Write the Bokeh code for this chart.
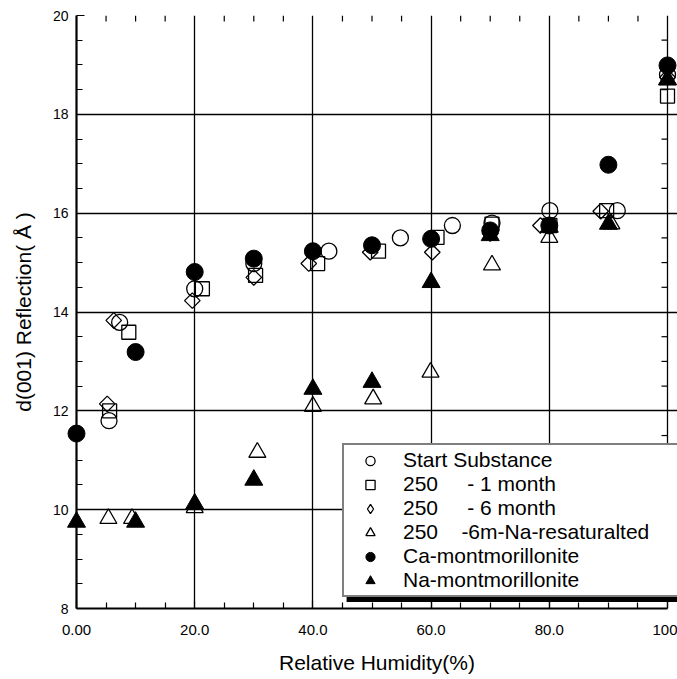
import numpy as np
from bokeh.plotting import figure
from bokeh.models import Range1d, FixedTicker, Legend, LegendItem, BoxAnnotation
from bokeh.embed import file_html
from bokeh.resources import INLINE

# ---- data -------------------------------------------------------------
x_ticks = [0, 20, 40, 60, 80, 100]
x_tick_labels = ["0.00", "20.0", "40.0", "60.0", "80.0", "100"]
x_minor = [5, 10, 15, 25, 30, 35, 45, 50, 55, 65, 70, 75, 85, 90, 95]
y_ticks = [8, 10, 12, 14, 16, 18, 20]
y_tick_labels = ["8", "10", "12", "14", "16", "18", "20"]
y_minor = [8.5, 9, 9.5, 10.5, 11, 11.5, 12.5, 13, 13.5, 14.5, 15, 15.5,
           16.5, 17, 17.5, 18.5, 19, 19.5]

NB = "\u00a0"
series_labels = [
    "Start Substance",
    "250" + NB * 5 + "- 1 month",
    "250" + NB * 5 + "- 6 month",
    "250" + NB * 4 + "-6m-Na-resaturalted",
    "Ca-montmorillonite",
    "Na-montmorillonite",
]

start_x = [5.5, 7.3, 20.0, 30.0, 42.7, 54.8, 63.6, 70.3, 80.1, 91.5, 100]
start_y = [11.80, 13.79, 14.47, 14.98, 15.23, 15.50, 15.75, 15.80, 16.05, 16.05, 18.80]

m1_x = [5.6, 8.85, 21.3, 30.3, 40.8, 51.1, 61.0, 70.3, 80.1, 89.7, 100]
m1_y = [12.00, 13.59, 14.47, 14.74, 14.98, 15.23, 15.51, 15.78, 15.75, 16.05, 18.37]

m6_x = [5.2, 6.3, 19.6, 30.0, 39.3, 49.7, 60.2, 70.0, 78.5, 88.7, 100]
m6_y = [12.14, 13.83, 14.23, 14.70, 14.98, 15.21, 15.21, 15.59, 15.75, 16.04, 18.75]

na_res_x = [5.4, 9.4, 20.0, 30.6, 40.0, 50.2, 59.9, 70.3, 80.0, 90.5, 100]
na_res_y = [9.82, 9.82, 10.04, 11.16, 12.09, 12.24, 12.78, 14.95, 15.51, 15.78, 18.70]

ca_x = [0, 10, 20, 30, 40, 50, 60, 70, 80, 90, 100]
ca_y = [11.54, 13.19, 14.81, 15.08, 15.23, 15.35, 15.48, 15.65, 15.75, 16.98, 18.99]

na_x = [0, 10, 20, 30, 40, 50, 60, 70, 80, 90, 100]
na_y = [9.75, 9.75, 10.12, 10.60, 12.44, 12.58, 14.60, 15.55, 15.72, 15.78, 18.70]

# ---- figure -----------------------------------------------------------
FONT = "Liberation Sans"
X_LO, X_HI = x_ticks[0], x_ticks[-1]
Y_LO, Y_HI = y_ticks[0], y_ticks[-1]

# the frame runs a little past 100 % so that the legend may run to the
# picture's right edge, as in the original (which is cropped there)
p = figure(width=677, height=679, output_backend="svg", toolbar_location=None,
           x_range=Range1d(X_LO, X_HI + 1.69),
           y_range=Range1d(Y_LO, Y_HI),
           min_border_left=76, min_border_right=0, min_border_top=15,
           min_border_bottom=71, outline_line_color=None,
           background_fill_color="white", border_fill_color="white")

xt = FixedTicker(ticks=x_ticks, minor_ticks=x_minor)
yt = FixedTicker(ticks=y_ticks, minor_ticks=y_minor)


def style_axis(ax):
    ax.axis_line_color = "black"
    ax.axis_line_width = 2.2
    ax.major_tick_in = 8
    ax.major_tick_out = 0
    ax.minor_tick_in = 6
    ax.minor_tick_out = 0
    ax.major_tick_line_color = "black"
    ax.minor_tick_line_color = "black"
    ax.major_tick_line_width = 1.2
    ax.minor_tick_line_width = 1.2


xa = p.xaxis[0]
xa.ticker = xt
xa.bounds = (X_LO, X_HI)
style_axis(xa)
xa.major_label_overrides = {t: l for t, l in zip(x_ticks, x_tick_labels)}
xa.major_label_text_font = FONT
xa.major_label_text_font_size = "15px"
xa.major_label_text_color = "black"
xa.major_label_standoff = 16
xa.axis_label = "Relative Humidity(%)"
xa.axis_label_text_font = FONT
xa.axis_label_text_font_size = "21px"
xa.axis_label_text_font_style = "normal"
xa.axis_label_text_color = "black"
xa.axis_label_standoff = 13

ya = p.yaxis[0]
ya.ticker = yt
style_axis(ya)
ya.major_label_overrides = {t: l for t, l in zip(y_ticks, y_tick_labels)}
ya.major_label_text_font = FONT
ya.major_label_text_font_size = "14px"
ya.major_label_text_color = "black"
ya.major_label_standoff = 8
ya.axis_label = "d(001) Reflection( \u00c5 )"
ya.axis_label_text_font = FONT
ya.axis_label_text_font_size = "21px"
ya.axis_label_text_font_style = "normal"
ya.axis_label_text_color = "black"
ya.axis_label_standoff = 15

p.xgrid.ticker = xt
p.ygrid.ticker = yt
p.ygrid.bounds = (X_LO, X_HI)
for g in (p.xgrid[0], p.ygrid[0]):
    g.grid_line_color = "black"
    g.grid_line_width = 1.3
    g.grid_line_alpha = 1.0

# mirrored minor ticks on the top and right edges (screen-length rays)
p.ray(x=x_minor, y=[Y_HI] * len(x_minor), length=6, length_units="screen",
      angle=-np.pi / 2, line_color="black", line_width=1.2)
p.ray(x=[X_HI] * len(y_minor), y=y_minor, length=6, length_units="screen",
      angle=np.pi, line_color="black", line_width=1.2)

# ---- markers ----------------------------------------------------------
common = dict(level="annotation")
r_start = p.scatter(start_x, start_y, marker="circle", size=16, fill_color=None,
                    line_color="black", line_width=1.3, **common)
r_m1 = p.scatter(m1_x, m1_y, marker="square", size=14, fill_color=None,
                 line_color="black", line_width=1.3, **common)
r_m6 = p.scatter(m6_x, m6_y, marker="square", angle=np.pi / 4, size=11, fill_color=None,
                 line_color="black", line_width=1.3, **common)
r_nares = p.scatter(na_res_x, na_res_y, marker="triangle", size=17, fill_color=None,
                    line_color="black", line_width=1.3, **common)
r_ca = p.scatter(ca_x, ca_y, marker="circle", size=17, fill_color="black",
                 line_color="black", line_width=1, **common)
r_na = p.scatter(na_x, na_y, marker="triangle", size=18, fill_color="black",
                 line_color="black", line_width=1, **common)

# legend-only diamond glyph (no visible data)
r_m6_leg = p.scatter([np.nan], [np.nan], marker="diamond", size=14, fill_color=None,
                     line_color="black", line_width=1.3)

leg_renderers = [r_start, r_m1, r_m6_leg, r_nares, r_ca, r_na]

# drop shadow behind the legend box
shadow = BoxAnnotation(left=45.7, right=120, top=11.23, bottom=8.13,
                       fill_color="black", fill_alpha=1.0, line_color=None,
                       level="annotation")
p.add_layout(shadow)

legend = Legend(items=[LegendItem(label=l, renderers=[r]) for l, r in
                       zip(series_labels, leg_renderers)],
                location=(266, 11), orientation="vertical",
                border_line_color="black", border_line_width=2,
                background_fill_color="white", background_fill_alpha=1.0,
                label_text_font=FONT, label_text_font_size="21px",
                label_text_color="black", label_standoff=10,
                label_width=300,
                glyph_width=46, glyph_height=23, label_height=23,
                spacing=0, padding=3, margin=0)
p.add_layout(legend)

open("out.html", "w").write(file_html(p, INLINE))
